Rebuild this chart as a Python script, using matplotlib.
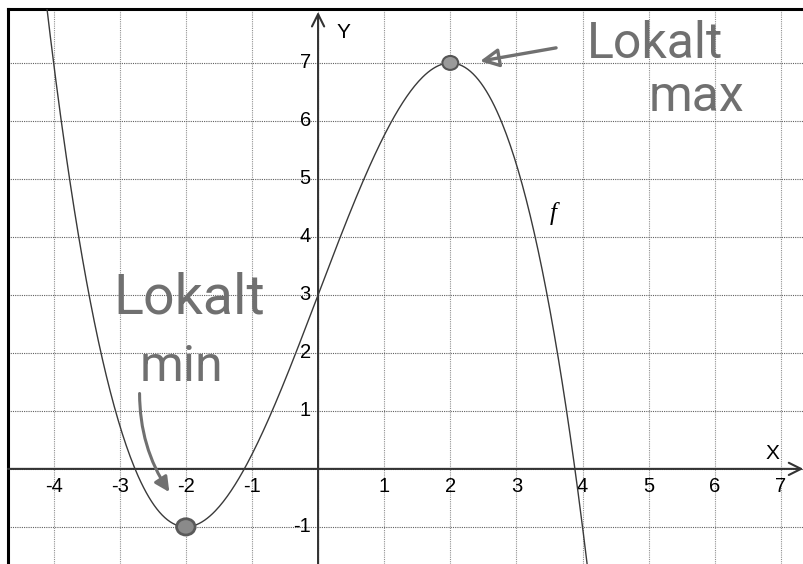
import numpy as np
import matplotlib.pyplot as plt
from matplotlib.patches import Circle

# f(x) = -0.25 x^3 + 3x + 3
coeffs = [-0.25, 0.0, 3.0, 3.0]
max_pt = (2, 7)
min_pt = (-2, -1)
x_ticks = [-4, -3, -2, -1, 1, 2, 3, 4, 5, 6, 7]
y_ticks = [-1, 1, 2, 3, 4, 5, 6, 7]

xlim = (-4.69, 7.35)
ylim = (-1.64, 7.93)

plt.rcParams['font.family'] = ['Liberation Sans', 'DejaVu Sans']

fig = plt.figure(figsize=(8.04, 5.64), dpi=100)
ax = fig.add_axes([8 / 804, 0, 1 - 8 / 804, 1 - 9 / 564])
ax.set_xlim(*xlim)
ax.set_ylim(*ylim)

for s in ['right', 'bottom']:
    ax.spines[s].set_visible(False)
for s in ['left', 'top']:
    ax.spines[s].set_linewidth(2.2)
ax.set_xticks([])
ax.set_yticks([])

# dotted grid at every unit
for gx in range(-4, 8):
    ax.axvline(gx, color='#909090', lw=0.8, ls=(0, (1, 1)), zorder=0)
for gy in range(-1, 8):
    ax.axhline(gy, color='#606060', lw=0.8, ls=(0, (1, 1)), zorder=0)

# coordinate axes with open arrow heads
ax.annotate('', xy=(7.34, 0), xytext=(xlim[0], 0),
            arrowprops=dict(arrowstyle='->', lw=1.5, color='#333333',
                            mutation_scale=22, shrinkA=0, shrinkB=0))
ax.annotate('', xy=(0, 7.88), xytext=(0, ylim[0]),
            arrowprops=dict(arrowstyle='->', lw=1.5, color='#333333',
                            mutation_scale=22, shrinkA=0, shrinkB=0))
ax.text(6.88, 0.27, 'X', fontsize=15, ha='center', va='center')
ax.text(0.38, 7.52, 'Y', fontsize=15, ha='center', va='center')

for t in x_ticks:
    ax.text(t, -0.31, str(t), fontsize=14.5, ha='center', va='center')
for t in y_ticks:
    ax.text(-0.11, t, str(t), fontsize=14.5, ha='right', va='center')

# the function graph
xs = np.linspace(xlim[0], xlim[1], 600)
ax.plot(xs, np.polyval(coeffs, xs), color='#3a3a3a', lw=1.0, zorder=3)
ax.text(3.55, 4.4, 'f', fontsize=18, ha='center', va='center',
        family='Liberation Serif', style='italic')

# handwritten markings
ink = '#707070'
hand = dict(color=ink, fontsize=36, family=['Roboto', 'DejaVu Sans'])

ax.add_patch(Circle(max_pt, 0.12, facecolor='#9a9a9a', edgecolor='#555555',
                    lw=1.5, zorder=4))
ax.add_patch(Circle(min_pt, 0.14, facecolor='#8a8a8a', edgecolor='#5a5a5a',
                    lw=2.0, zorder=4))

ax.annotate('', xy=(2.45, 7.03), xytext=(3.6, 7.26),
            arrowprops=dict(arrowstyle='-|>', lw=2.4, color=ink,
                            mutation_scale=28, fc='none', shrinkA=0, shrinkB=0))
ax.text(4.06, 7.33, 'Lokalt', ha='left', va='center', **hand)
ax.text(5.0, 6.42, 'max', ha='left', va='center', **hand)

ax.text(-3.1, 2.95, 'Lokalt', ha='left', va='center', **{**hand, 'fontsize': 40})
ax.text(-2.7, 1.75, 'min', ha='left', va='center', **hand)
ax.annotate('', xy=(-2.25, -0.4), xytext=(-2.7, 1.3),
            arrowprops=dict(arrowstyle='-|>', lw=2.2, color=ink,
                            mutation_scale=22, connectionstyle='arc3,rad=0.15',
                            shrinkA=0, shrinkB=0))

fig.savefig('out.png', dpi=100)
